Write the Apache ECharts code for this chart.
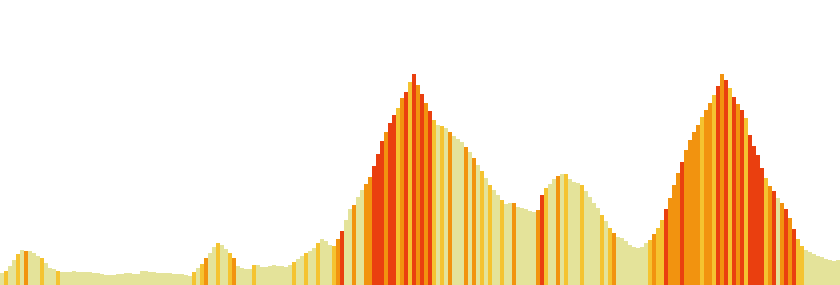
<!DOCTYPE html>
<html>
<head>
<meta charset="utf-8">
<script src="https://cdn.jsdelivr.net/npm/echarts@6/dist/echarts.min.js"></script>
<style>html,body{margin:0;padding:0;background:#fff}#c{width:840px;height:285px}</style>
</head>
<body>
<div id="c"></div>
<script>
// elevation per segment (profile heights)
var elevation = [
12,14,19,25,31,35,34,34,32,29,27,22,17,16,14,13,13,13,14,13,
13,13,13,12,12,11,10,10,10,11,11,12,12,11,11,14,14,13,13,12,
12,12,12,11,11,11,10,9,13,17,21,27,32,38,42,40,36,32,27,19,
17,16,16,20,20,18,18,19,20,19,19,18,20,23,26,29,32,34,37,42,
46,44,40,39,46,54,65,76,80,88,95,101,108,119,131,144,153,162,170,177,
187,193,203,211,200,191,182,174,165,160,159,157,153,149,146,143,138,133,127,120,
114,107,100,95,90,85,81,82,82,78,77,76,74,73,75,90,97,101,106,109,
111,111,106,103,102,100,94,88,82,77,70,64,57,52,48,47,44,40,38,37,
38,42,45,51,57,65,76,87,100,112,123,135,145,153,160,168,175,182,190,199,
211,205,197,188,181,175,167,150,139,130,117,107,99,94,87,82,76,67,56,46,
39,35,33,31,29,28,26,25,24,25
];
// slope class per segment: 0 flat, 1 gentle, 2 steep, 3 very steep
var slopeClass = [
0,1,0,0,1,0,2,0,0,0,1,0,0,0,1,0,0,0,0,0,
0,0,0,0,0,0,0,0,0,0,0,0,0,0,0,0,0,0,0,0,
0,0,0,0,0,0,0,0,1,0,1,2,0,0,1,0,0,1,2,0,
0,0,0,1,0,0,0,0,0,0,0,0,0,1,0,0,1,0,0,1,
0,0,0,1,2,3,0,0,2,0,0,2,2,3,3,3,2,3,3,1,
2,3,1,3,2,3,2,3,1,0,1,0,2,0,0,0,2,0,2,0,
1,0,1,0,0,1,0,0,2,0,0,0,0,0,2,3,1,0,0,2,
0,1,0,0,0,1,0,0,0,0,1,0,1,2,0,0,0,0,0,0,
0,0,1,2,1,1,3,2,2,2,3,2,2,2,2,1,2,2,1,3,
2,3,1,3,2,3,1,3,3,3,3,1,2,3,0,2,3,2,3,1,
1,0,0,0,0,0,0,0,0,0
];
var classColors = ['#e4e39a', '#f5c330', '#f2930f', '#ea3f0f'];

var categories = elevation.map(function (v, i) { return String(i); });
var barData = elevation.map(function (v, i) {
  return { value: v, itemStyle: { color: classColors[slopeClass[i]] } };
});

var chart = echarts.init(document.getElementById('c'), null, { renderer: 'canvas' });
chart.setOption({
  animation: false,
  backgroundColor: '#ffffff',
  grid: { left: 0, right: 0, top: 0, bottom: 0 },
  xAxis: { type: 'category', data: categories, show: false, boundaryGap: true },
  yAxis: { type: 'value', min: 0, max: 285, show: false },
  series: [{
    type: 'bar',
    data: barData,
    barCategoryGap: '0%',
    barGap: '0%',
    itemStyle: { borderWidth: 0 }
  }]
});
</script>
</body>
</html>
